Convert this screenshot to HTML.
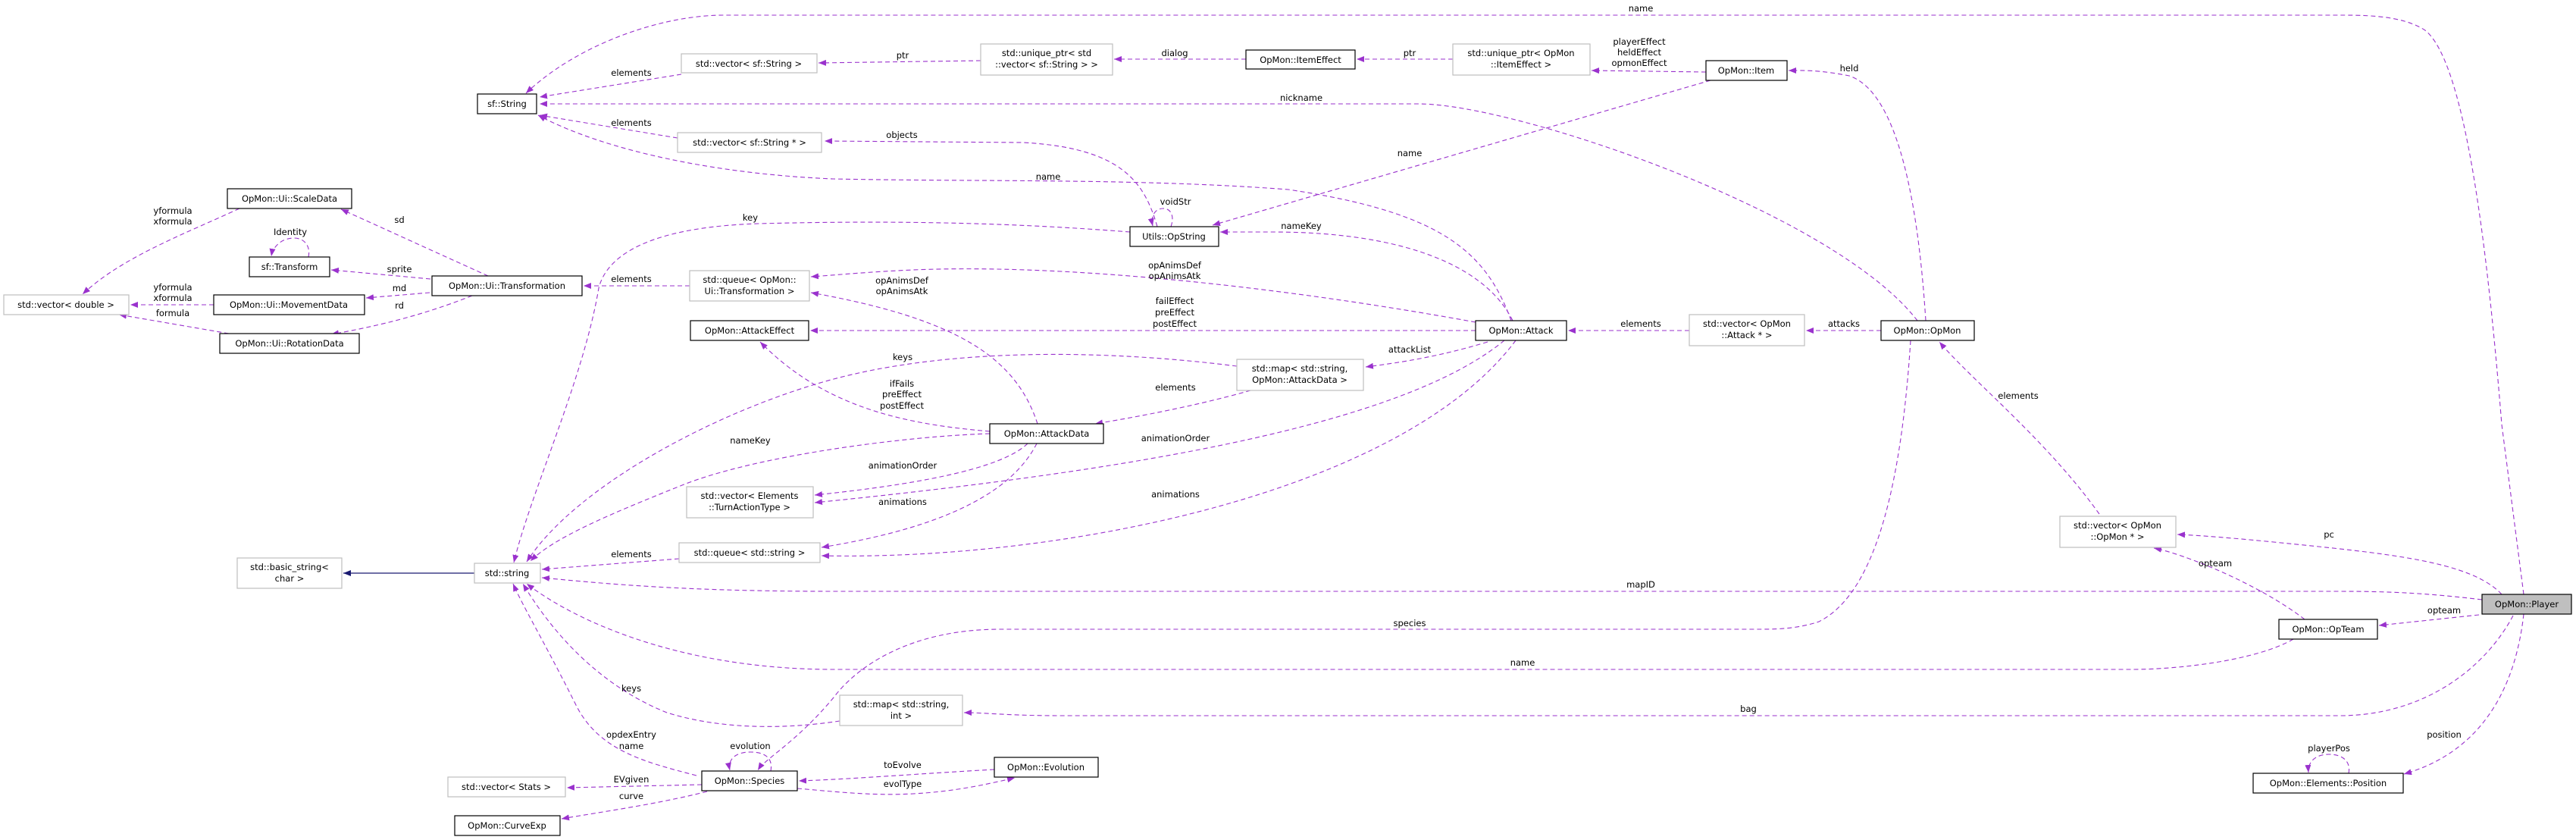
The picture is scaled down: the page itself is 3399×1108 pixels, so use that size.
<!DOCTYPE html>
<html><head><meta charset="utf-8"><style>
html,body{margin:0;padding:0;background:#fff;}
svg{display:block;}
text{font-family:"DejaVu Sans","Liberation Sans",sans-serif;font-size:11.5px;fill:#000;}
.n{fill:#fff;stroke:#000;stroke-width:1.2;}
.g{fill:#fff;stroke:#bfbfbf;stroke-width:1.2;}
.e{fill:none;stroke:#9a32cd;stroke-width:1.1;stroke-dasharray:6,4;}
.s{fill:none;stroke:#191970;stroke-width:1.2;}
</style></head><body>
<svg width="3399" height="1108" viewBox="0 0 3399 1108" xmlns="http://www.w3.org/2000/svg">
<defs>
<marker id="a" viewBox="0 0 10 8" refX="10" refY="4" markerWidth="10" markerHeight="8" markerUnits="userSpaceOnUse" orient="auto"><path d="M0,0 L10,4 L0,8 z" fill="#9a32cd"/></marker>
<marker id="b" viewBox="0 0 10 8" refX="10" refY="4" markerWidth="10" markerHeight="8" markerUnits="userSpaceOnUse" orient="auto"><path d="M0,0 L10,4 L0,8 z" fill="#191970"/></marker>
</defs>
<g marker-end="url(#a)">
<!-- name Player -> sf::String -->
<path class="e" d="M3330,784 L3301,560 C3280,300 3250,80 3200,40 C3170,20 3120,20 3087,20 L955,20 C870,20 760,60 694,123"/>
<path class="e" d="M899,98 L712,128"/>
<path class="e" d="M2530,423 C2420,280 2000,137 1872,137 L712,137"/>
<path class="e" d="M2541,423 C2530,250 2500,120 2440,100 C2400,92 2380,93 2360,93"/>
<path class="e" d="M2251,95 L2100,93"/>
<path class="e" d="M1917,78 L1790,78"/>
<path class="e" d="M1644,78 L1470,78"/>
<path class="e" d="M1294,80 L1080,83"/>
<path class="e" d="M894,182 L712,152"/>
<path class="e" d="M1527,299 C1510,240 1480,195 1350,188 L1088,186"/>
<path class="e" d="M1994,423 C1960,330 1900,280 1700,250 C1500,235 1300,240 1100,236 C950,230 800,200 710,152"/>
<path class="e" d="M2257,106 L1600,297"/>
<path class="e" d="M1545,299 C1550,285 1545,275 1535,275 C1524,275 1518,285 1521,298"/>
<path class="e" d="M1491,306 C1350,295 1200,290 1000,295 C850,300 800,340 790,380 C770,500 700,650 678,742"/>
<path class="e" d="M1996,423 C1960,350 1850,306 1680,306 L1610,306"/>
<path class="e" d="M1947,425 C1700,380 1400,345 1184,357 C1130,360 1100,363 1070,365"/>
<path class="e" d="M910,377 L770,377"/>
<path class="e" d="M644,364 L450,276"/>
<path class="e" d="M568,368 L437,356"/>
<path class="e" d="M567,386 L483,393"/>
<path class="e" d="M623,390 C560,415 500,430 437,441"/>
<path class="e" d="M316,275 C240,310 160,340 109,388"/>
<path class="e" d="M282,402 L172,402"/>
<path class="e" d="M302,440 L157,415"/>
<path class="e" d="M407,339 C410,325 402,314 388,314 C372,314 360,325 358,338"/>
<path class="e" d="M1947,436 L1069,436"/>
<path class="e" d="M1963,451 C1900,470 1850,478 1802,484"/>
<path class="e" d="M2229,436 L2069,436"/>
<path class="e" d="M2482,436 L2383,436"/>
<path class="e" d="M2770,678 C2700,580 2600,500 2559,451"/>
<path class="e" d="M1632,483 C1450,460 1250,460 1100,500 C950,540 760,640 695,741"/>
<path class="e" d="M1650,515 C1580,535 1500,550 1445,559"/>
<path class="e" d="M1306,569 C1200,560 1090,540 1003,451"/>
<path class="e" d="M1369,559 C1340,470 1260,420 1070,386"/>
<path class="e" d="M1306,572 C1200,575 1000,600 900,640 C800,680 730,710 700,740"/>
<path class="e" d="M1356,585 C1320,620 1200,640 1075,653"/>
<path class="e" d="M1985,449 C1850,560 1500,620 1075,663"/>
<path class="e" d="M1368,585 C1330,660 1220,700 1084,722"/>
<path class="e" d="M2000,449 C1850,650 1400,740 1084,733"/>
<path class="e" d="M896,737 L715,751"/>
<path class="e" d="M3275,791 C3200,782 3150,780 3087,780 L1100,780 C900,780 800,770 715,762"/>
<path class="e" d="M3301,784 C3260,740 3150,730 3000,715 C2950,710 2900,706 2873,705"/>
<path class="e" d="M3271,811 L3139,825"/>
<path class="e" d="M3041,817 C2980,770 2880,730 2842,723"/>
<path class="e" d="M2521,449 C2510,620 2480,780 2400,820 C2370,830 2340,830 2322,830 L1320,830 C1200,830 1130,880 1100,920 C1050,980 1010,1000 1000,1016"/>
<path class="e" d="M3026,843 C2980,870 2880,883 2812,883 L1100,883 C900,883 760,820 695,770"/>
<path class="e" d="M3316,812 C3280,880 3200,944 3087,944 L1400,944 C1330,944 1300,940 1272,940"/>
<path class="e" d="M1108,951 C1050,960 960,965 880,940 C780,900 720,820 690,770"/>
<path class="e" d="M919,1023 C850,1005 790,990 760,930 C720,850 690,800 677,770"/>
<path class="e" d="M1017,1017 C1020,1000 1010,992 990,992 C970,992 960,1002 963,1016"/>
<path class="e" d="M926,1035 L748,1039"/>
<path class="e" d="M933,1044 C870,1060 800,1070 741,1080"/>
<path class="e" d="M1312,1015 C1220,1020 1120,1028 1054,1030"/>
<path class="e" d="M1052,1040 C1100,1044 1150,1050 1205,1047 C1260,1044 1300,1035 1339,1026"/>
<path class="e" d="M3099,1020 C3102,1005 3092,995 3073,995 C3055,995 3045,1005 3046,1019"/>
<path class="e" d="M3330,810 C3320,900 3280,990 3172,1021"/>
</g>
<path class="s" d="M626,756 L453,756" marker-end="url(#b)"/>

<!-- nodes -->
<g>
<rect class="n" x="630" y="124" width="78" height="26"/><text x="669" y="141" text-anchor="middle">sf::String</text>
<rect class="g" x="899" y="71" width="179" height="25"/><text x="988" y="88" text-anchor="middle">std::vector&lt; sf::String &gt;</text>
<rect class="g" x="894" y="175" width="190" height="26"/><text x="989" y="192" text-anchor="middle">std::vector&lt; sf::String * &gt;</text>
<rect class="n" x="300" y="249" width="164" height="26"/><text x="382" y="266" text-anchor="middle">OpMon::Ui::ScaleData</text>
<rect class="n" x="329" y="339" width="106" height="26"/><text x="382" y="356" text-anchor="middle">sf::Transform</text>
<rect class="n" x="570" y="364" width="198" height="26"/><text x="669" y="381" text-anchor="middle">OpMon::Ui::Transformation</text>
<rect class="g" x="5" y="389" width="165" height="26"/><text x="87" y="406" text-anchor="middle">std::vector&lt; double &gt;</text>
<rect class="n" x="282" y="389" width="199" height="26"/><text x="381" y="406" text-anchor="middle">OpMon::Ui::MovementData</text>
<rect class="n" x="290" y="440" width="184" height="26"/><text x="382" y="457" text-anchor="middle">OpMon::Ui::RotationData</text>
<rect class="g" x="910" y="357" width="158" height="40"/><text x="989" y="373" text-anchor="middle">std::queue&lt; OpMon::</text><text x="989" y="388" text-anchor="middle">Ui::Transformation &gt;</text>
<rect class="n" x="911" y="423" width="156" height="26"/><text x="989" y="440" text-anchor="middle">OpMon::AttackEffect</text>
<rect class="g" x="1294" y="58" width="174" height="41"/><text x="1381" y="74" text-anchor="middle">std::unique_ptr&lt; std</text><text x="1381" y="89" text-anchor="middle">::vector&lt; sf::String &gt; &gt;</text>
<rect class="n" x="1644" y="66" width="144" height="25"/><text x="1716" y="83" text-anchor="middle">OpMon::ItemEffect</text>
<rect class="g" x="1917" y="58" width="181" height="41"/><text x="2007" y="74" text-anchor="middle">std::unique_ptr&lt; OpMon</text><text x="2007" y="89" text-anchor="middle">::ItemEffect &gt;</text>
<rect class="n" x="1491" y="299" width="117" height="26"/><text x="1549" y="316" text-anchor="middle">Utils::OpString</text>
<rect class="n" x="1947" y="423" width="120" height="26"/><text x="2007" y="440" text-anchor="middle">OpMon::Attack</text>
<rect class="g" x="1632" y="474" width="167" height="41"/><text x="1715" y="490" text-anchor="middle">std::map&lt; std::string,</text><text x="1715" y="505" text-anchor="middle">OpMon::AttackData &gt;</text>
<rect class="n" x="1306" y="559" width="150" height="26"/><text x="1381" y="576" text-anchor="middle">OpMon::AttackData</text>
<rect class="n" x="2251" y="80" width="107" height="26"/><text x="2304" y="97" text-anchor="middle">OpMon::Item</text>
<rect class="g" x="2229" y="415" width="152" height="41"/><text x="2305" y="431" text-anchor="middle">std::vector&lt; OpMon</text><text x="2305" y="446" text-anchor="middle">::Attack * &gt;</text>
<rect class="n" x="2482" y="423" width="123" height="26"/><text x="2543" y="440" text-anchor="middle">OpMon::OpMon</text>
<rect class="g" x="906" y="642" width="167" height="41"/><text x="989" y="658" text-anchor="middle">std::vector&lt; Elements</text><text x="989" y="673" text-anchor="middle">::TurnActionType &gt;</text>
<rect class="g" x="896" y="716" width="186" height="26"/><text x="989" y="733" text-anchor="middle">std::queue&lt; std::string &gt;</text>
<rect class="g" x="313" y="736" width="138" height="40"/><text x="382" y="752" text-anchor="middle">std::basic_string&lt;</text><text x="382" y="767" text-anchor="middle">char &gt;</text>
<rect class="g" x="626" y="743" width="87" height="26"/><text x="669" y="760" text-anchor="middle">std::string</text>
<rect class="n" x="926" y="1017" width="126" height="26"/><text x="989" y="1034" text-anchor="middle">OpMon::Species</text>
<rect class="g" x="591" y="1025" width="155" height="26"/><text x="668" y="1042" text-anchor="middle">std::vector&lt; Stats &gt;</text>
<rect class="n" x="600" y="1076" width="139" height="26"/><text x="669" y="1093" text-anchor="middle">OpMon::CurveExp</text>
<rect class="g" x="1108" y="917" width="162" height="40"/><text x="1189" y="933" text-anchor="middle">std::map&lt; std::string,</text><text x="1189" y="948" text-anchor="middle">int &gt;</text>
<rect class="n" x="1312" y="999" width="137" height="26"/><text x="1380" y="1016" text-anchor="middle">OpMon::Evolution</text>
<rect class="g" x="2718" y="681" width="153" height="41"/><text x="2794" y="697" text-anchor="middle">std::vector&lt; OpMon</text><text x="2794" y="712" text-anchor="middle">::OpMon * &gt;</text>
<rect x="3275" y="784" width="118" height="26" fill="#bfbfbf" stroke="#000" stroke-width="1.2"/><text x="3334" y="801" text-anchor="middle">OpMon::Player</text>
<rect class="n" x="3007" y="817" width="130" height="26"/><text x="3072" y="834" text-anchor="middle">OpMon::OpTeam</text>
<rect class="n" x="2973" y="1020" width="198" height="26"/><text x="3072" y="1037" text-anchor="middle">OpMon::Elements::Position</text>
</g>

<!-- labels -->
<g text-anchor="middle">
<text x="2165" y="15">name</text>
<text x="833" y="100">elements</text>
<text x="1717" y="133">nickname</text>
<text x="2440" y="94">held</text>
<text x="2163" y="59">playerEffect</text><text x="2163" y="73">heldEffect</text><text x="2163" y="87">opmonEffect</text>
<text x="1860" y="74">ptr</text>
<text x="1550" y="74">dialog</text>
<text x="1191" y="77">ptr</text>
<text x="833" y="166">elements</text>
<text x="1190" y="182">objects</text>
<text x="1383" y="237">name</text>
<text x="1860" y="206">name</text>
<text x="1551" y="270">voidStr</text>
<text x="990" y="291">key</text>
<text x="1717" y="302">nameKey</text>
<text x="1550" y="354">opAnimsDef</text><text x="1550" y="368">opAnimsAtk</text>
<text x="833" y="372">elements</text>
<text x="527" y="294">sd</text>
<text x="527" y="359">sprite</text>
<text x="527" y="384">md</text>
<text x="527" y="407">rd</text>
<text x="228" y="282">yformula</text><text x="228" y="296">xformula</text>
<text x="228" y="383">yformula</text><text x="228" y="397">xformula</text>
<text x="228" y="417">formula</text>
<text x="383" y="310">Identity</text>
<text x="1550" y="401">failEffect</text><text x="1550" y="416">preEffect</text><text x="1550" y="431">postEffect</text>
<text x="1860" y="465">attackList</text>
<text x="2165" y="431">elements</text>
<text x="2433" y="431">attacks</text>
<text x="2663" y="526">elements</text>
<text x="1191" y="475">keys</text>
<text x="1551" y="515">elements</text>
<text x="1190" y="510">ifFails</text><text x="1190" y="524">preEffect</text><text x="1190" y="539">postEffect</text>
<text x="1190" y="374">opAnimsDef</text><text x="1190" y="388">opAnimsAtk</text>
<text x="990" y="585">nameKey</text>
<text x="1191" y="618">animationOrder</text>
<text x="1551" y="582">animationOrder</text>
<text x="1191" y="666">animations</text>
<text x="1551" y="656">animations</text>
<text x="833" y="735">elements</text>
<text x="2165" y="775">mapID</text>
<text x="3073" y="709">pc</text>
<text x="3225" y="809">opteam</text>
<text x="2923" y="747">opteam</text>
<text x="1860" y="826">species</text>
<text x="2009" y="878">name</text>
<text x="2307" y="939">bag</text>
<text x="833" y="912">keys</text>
<text x="833" y="973">opdexEntry</text><text x="833" y="988">name</text>
<text x="990" y="988">evolution</text>
<text x="833" y="1032">EVgiven</text>
<text x="833" y="1054">curve</text>
<text x="1191" y="1013">toEvolve</text>
<text x="1191" y="1038">evolType</text>
<text x="3073" y="991">playerPos</text>
<text x="3225" y="973">position</text>
</g>
</svg>
</body></html>
